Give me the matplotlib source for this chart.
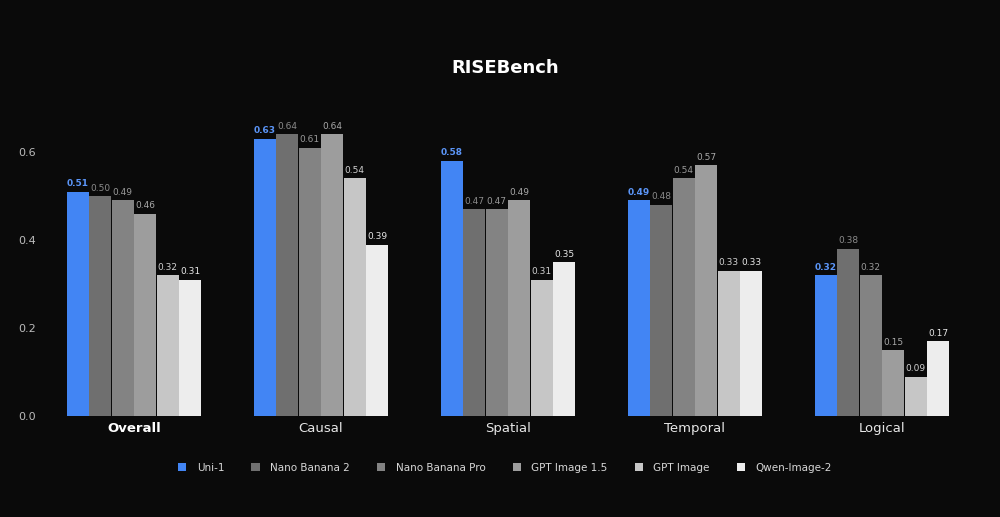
import matplotlib

matplotlib.use("Agg")
import matplotlib.pyplot as plt
import numpy as np

categories = ["Overall", "Causal", "Spatial", "Temporal", "Logical"]
models = ["Uni-1", "Nano Banana 2", "Nano Banana Pro", "GPT Image 1.5", "GPT Image", "Qwen-Image-2"]
scores = {
    "Uni-1": [0.51, 0.63, 0.58, 0.49, 0.32],
    "Nano Banana 2": [0.50, 0.64, 0.47, 0.48, 0.38],
    "Nano Banana Pro": [0.49, 0.61, 0.47, 0.54, 0.32],
    "GPT Image 1.5": [0.46, 0.64, 0.49, 0.57, 0.15],
    "GPT Image": [0.32, 0.54, 0.31, 0.33, 0.09],
    "Qwen-Image-2": [0.31, 0.39, 0.35, 0.33, 0.17],
}
colors = ["#4285f4", "#6f6f6f", "#838383", "#9d9d9d", "#c6c6c6", "#ededed"]
label_colors = ["#5b95f7", "#8a8a8a", "#999999", "#a8a8a8", "#d0d0d0", "#e8e8e8"]

bg = "#0a0a0a"
fig = plt.figure(figsize=(10, 5.17), dpi=100, facecolor=bg)
ax = fig.add_axes([0.055, 0.195, 0.91, 0.596], facecolor=bg)

x = np.arange(len(categories))
width = 0.12
for i, (model, color) in enumerate(zip(models, colors)):
    offs = (i - 2.5) * width
    vals = scores[model]
    ax.bar(x + offs, vals, width * 0.98, color=color, label=model)
    for xi, v in zip(x, vals):
        ax.text(xi + offs, v + 0.008, f"{v:.2f}", ha="center", va="bottom",
                fontsize=6.5, color=label_colors[i],
                fontweight="bold" if i == 0 else "normal")

ax.set_xlim(-0.422, 4.444)
ax.set_ylim(0, 0.7)
ax.set_yticks([0.0, 0.2, 0.4, 0.6])
ax.set_yticklabels(["0.0", "0.2", "0.4", "0.6"])
ax.set_xticks(x)
ax.set_xticklabels(categories)
for lbl in ax.get_xticklabels():
    lbl.set_color("#e6e6e6")
    lbl.set_fontsize(9.5)
ax.get_xticklabels()[0].set_fontweight("bold")
ax.get_xticklabels()[0].set_color("white")
ax.tick_params(axis="y", colors="#bbbbbb", labelsize=8, length=0, pad=14)
ax.tick_params(axis="x", length=0, pad=4)
for s in ax.spines.values():
    s.set_visible(False)

fig.text(0.505, 0.868, "RISEBench", ha="center", va="center", fontsize=13,
         fontweight="bold", color="white")

leg = fig.legend(loc="center", bbox_to_anchor=(0.505, 0.095), ncol=6, frameon=False,
                 fontsize=7.5, handlelength=0.8, handleheight=0.8, columnspacing=2.6,
                 handletextpad=1.0)
for t in leg.get_texts():
    t.set_color("#d8d8d8")

fig.savefig("out.png", dpi=100, facecolor=bg)
